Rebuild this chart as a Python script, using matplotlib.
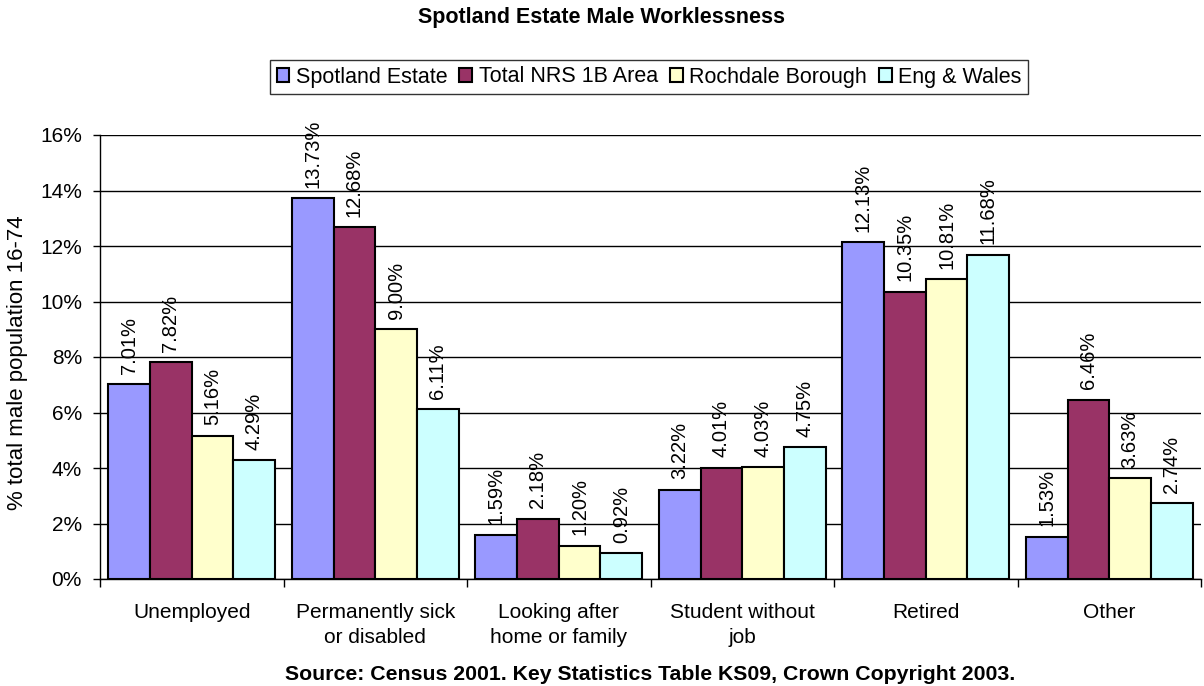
import matplotlib
matplotlib.use("Agg")
import matplotlib.pyplot as plt
import numpy as np
from matplotlib.ticker import FuncFormatter, MultipleLocator

plt.rcParams['font.family'] = ['Liberation Sans', 'DejaVu Sans']

categories = ["Unemployed", "Permanently sick\nor disabled", "Looking after\nhome or family",
              "Student without\njob", "Retired", "Other"]
series_names = ["Spotland Estate", "Total NRS 1B Area", "Rochdale Borough", "Eng & Wales"]
spotland = [7.01, 13.73, 1.59, 3.22, 12.13, 1.53]
nrs = [7.82, 12.68, 2.18, 4.01, 10.35, 6.46]
rochdale = [5.16, 9.00, 1.20, 4.03, 10.81, 3.63]
engwales = [4.29, 6.11, 0.92, 4.75, 11.68, 2.74]
colors = ["#9999FF", "#993366", "#FFFFCC", "#CCFFFF"]

data = [spotland, nrs, rochdale, engwales]

fig = plt.figure(figsize=(12.04, 6.86), dpi=100)
ax = fig.add_axes([100/1204, 1-579/686, 1101/1204, (579-135)/686])

n = len(categories)
x = np.arange(n)
w = 0.2275
for i, (vals, name, c) in enumerate(zip(data, series_names, colors)):
    pos = x - 2*w + w/2 + i*w
    ax.bar(pos, vals, width=w, color=c, edgecolor="black", linewidth=1.5, label=name, zorder=3)
    for p, v in zip(pos, vals):
        ax.annotate(f"{v:.2f}%", (p, v), xytext=(0, 7.5), textcoords="offset points",
                    rotation=90, ha="center", va="bottom", fontsize=14.5, zorder=4)

ax.set_xlim(-0.5, n - 0.5)
ax.set_ylim(0, 16)
ax.yaxis.set_major_locator(MultipleLocator(2))
ax.yaxis.set_major_formatter(FuncFormatter(lambda v, p: f"{int(v)}%"))
ax.grid(axis="y", color="black", linewidth=1, zorder=0)
ax.set_xticks(np.arange(-0.5, n, 1.0))
ax.set_xticklabels([])
ax.set_xticks(x, minor=True)
ax.set_xticklabels(categories, minor=True, fontsize=15, linespacing=1.4)
ax.tick_params(axis="x", which="minor", length=0, pad=17)
ax.tick_params(axis="x", which="major", length=6, width=1, direction="out")
ax.tick_params(axis="y", length=5, width=1, direction="out", labelsize=15, pad=8)
for s in ["top", "right"]:
    ax.spines[s].set_visible(False)
for s in ["left", "bottom"]:
    ax.spines[s].set_linewidth(1)
ax.set_ylabel("% total male population 16-74", fontsize=16)
ax.yaxis.set_label_coords(28/1204, 1-363/686, transform=fig.transFigure)

leg = ax.legend(loc="center", bbox_to_anchor=(649/1204, 1-77/686), bbox_transform=fig.transFigure,
                ncol=4, fontsize=15.5, frameon=True, fancybox=False, edgecolor="black",
                handlelength=0.6, handleheight=0.6, handletextpad=0.3, columnspacing=0.55,
                borderpad=0.3, borderaxespad=0)
leg.get_frame().set_linewidth(1)
for h in leg.legend_handles:
    h.set_linewidth(1.5)

fig.text(601/1204, 1-18/686, "Spotland Estate Male Worklessness", ha="center", va="center",
         fontsize=15.5, fontweight="bold")
fig.text(650/1204, 1-675/686, "Source: Census 2001. Key Statistics Table KS09, Crown Copyright 2003.",
         ha="center", va="center", fontsize=15.3, fontweight="bold")

fig.savefig("out.png", dpi=100)
